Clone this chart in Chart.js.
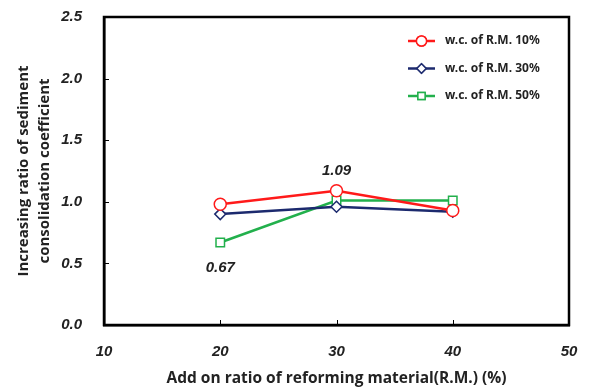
<!DOCTYPE html>
<html>
<head>
<meta charset="utf-8">
<script src="https://cdn.jsdelivr.net/npm/chart.js@4/dist/chart.umd.min.js"></script>
<style>
  html, body { margin: 0; padding: 0; background: #fff; }
  #wrap { width: 592px; height: 392px; }
</style>
</head>
<body>
<div id="wrap"><canvas id="c"></canvas></div>
<script>
// data
const addRatio = [20, 30, 40];
const wc10 = [0.98, 1.09, 0.93];
const wc30 = [0.90, 0.96, 0.92];
const wc50 = [0.67, 1.01, 1.01];
const seriesNames = ['w.c. of R.M. 10%', 'w.c. of R.M. 30%', 'w.c. of R.M. 50%'];
const xTicks = [10, 20, 30, 40, 50];
const yTicks = [0, 0.5, 1.0, 1.5, 2.0, 2.5];
// annotated values: [datasetIndex, pointIndex, dy]
const notes = [[0, 1, -20], [2, 0, 25]];

const tickFont = { family: 'Liberation Sans', size: 15, weight: 'bold', style: 'italic' };

const mk = (label, ys, color, style, r) => ({
  label, data: addRatio.map((x, i) => ({ x, y: ys[i] })),
  borderColor: color, backgroundColor: '#fff', borderWidth: 2.5,
  pointStyle: style, pointRadius: r, pointBorderWidth: 1.5,
  pointBorderColor: color, pointBackgroundColor: '#fff', tension: 0
});

// frame, inward ticks, annotation text, legend inside plot
const decor = {
  id: 'decor',
  afterDatasetsDraw(chart) {
    const { ctx, chartArea: a, scales: { x, y } } = chart;
    ctx.save();
    ctx.strokeStyle = '#000';
    ctx.lineWidth = 1;
    xTicks.slice(1, -1).forEach(v => {
      const px = Math.round(x.getPixelForValue(v)) + 0.5;
      ctx.beginPath(); ctx.moveTo(px, a.bottom); ctx.lineTo(px, a.bottom - 5); ctx.stroke();
    });
    yTicks.slice(1, -1).forEach(v => {
      const py = Math.round(y.getPixelForValue(v)) + 0.5;
      ctx.beginPath(); ctx.moveTo(a.left, py); ctx.lineTo(a.left + 5, py); ctx.stroke();
    });
    ctx.lineWidth = 2.5;
    ctx.strokeRect(a.left, a.top, a.right - a.left, a.bottom - a.top);

    ctx.fillStyle = '#222';
    ctx.font = 'italic bold 15px "Liberation Sans"';
    ctx.textAlign = 'center';
    ctx.textBaseline = 'middle';
    notes.forEach(([d, i, dy]) => {
      const p = chart.getDatasetMeta(d).data[i];
      ctx.fillText(chart.data.datasets[d].data[i].y.toFixed(2), p.x, p.y + dy);
    });

    ctx.font = 'bold 12px "Noto Sans"';
    ctx.textAlign = 'left';
    chart.data.datasets.forEach((ds, k) => {
      const ly = a.top + 24 + k * 27.5, lx = a.right - 161;
      ctx.strokeStyle = ds.borderColor;
      ctx.lineWidth = 2.5;
      ctx.beginPath(); ctx.moveTo(lx, ly); ctx.lineTo(lx + 27, ly); ctx.stroke();
      ctx.lineWidth = 1.5;
      Chart.helpers.drawPoint(ctx, {
        pointStyle: ds.pointStyle, radius: ds.pointRadius * 0.85, borderWidth: 1.5, rotation: 0
      }, lx + 13.5, ly);
      ctx.fillStyle = '#fff';
      ctx.fill();
      ctx.stroke();
      ctx.fillStyle = '#222';
      ctx.fillText(ds.label, lx + 37, ly);
    });
    ctx.restore();
  }
};

new Chart(document.getElementById('c'), {
  type: 'line',
  data: {
    datasets: [
      mk(seriesNames[0], wc10, '#ff1a1a', 'circle', 6),
      mk(seriesNames[1], wc30, '#1c2a6e', 'rectRot', 5.5),
      mk(seriesNames[2], wc50, '#22b04c', 'rect', 6)
    ]
  },
  options: {
    responsive: true, maintainAspectRatio: false, animation: false,
    layout: { padding: { top: 17, right: 23, left: 0, bottom: 0 } },
    plugins: { legend: { display: false }, tooltip: { enabled: false } },
    scales: {
      x: {
        type: 'linear', min: 10, max: 50,
        afterBuildTicks: s => { s.ticks = xTicks.map(v => ({ value: v })); },
        afterFit: s => { s.height = 67; s.paddingLeft = 0; s.paddingRight = 0; },
        grid: { display: false },
        border: { color: '#000', width: 2.5 },
        ticks: { color: '#222', font: tickFont, padding: 10, maxRotation: 0 },
        title: { display: true, text: 'Add on ratio of reforming material(R.M.) (%)', color: '#222',
          font: { family: 'Open Sans', size: 15.5, weight: 'bold' }, padding: { top: 8 } }
      },
      y: {
        min: 0, max: 2.5,
        afterBuildTicks: s => { s.ticks = yTicks.map(v => ({ value: v })); },
        afterFit: s => { s.width = 104; s.paddingTop = 0; s.paddingBottom = 0; },
        grid: { display: false },
        border: { color: '#000', width: 2.5 },
        ticks: { color: '#222', font: tickFont, padding: 14, callback: v => v.toFixed(1) },
        title: { display: true, text: ['Increasing ratio of sediment', 'consolidation coefficient'], color: '#222',
          font: { family: 'Open Sans', size: 15, weight: 'bold', lineHeight: 1.4 }, padding: { top: 13 } }
      }
    }
  },
  plugins: [decor]
});
</script>
</body>
</html>
